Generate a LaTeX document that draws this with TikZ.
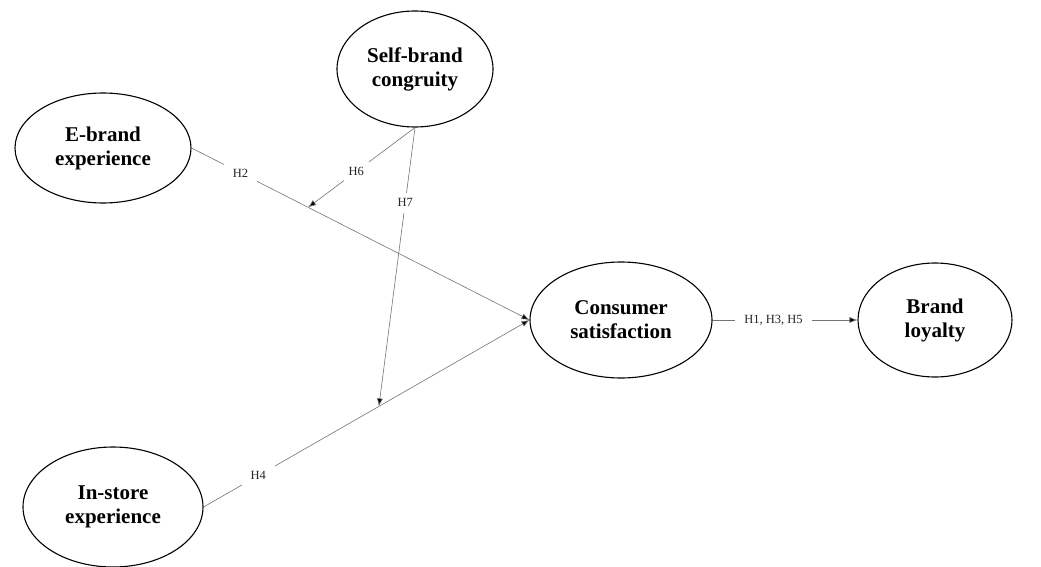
\documentclass[tikz,border=0pt]{standalone}
\usepackage{fontspec}
\setmainfont{Liberation Serif}
\usetikzlibrary{shapes.geometric,arrows.meta,calc}
\begin{document}
\begin{tikzpicture}[x=1pt,y=-1pt,
  construct/.style={ellipse,draw=black,line width=1.1pt,inner sep=0pt,align=center,
    font=\fontsize{21}{24}\selectfont\bfseries},
  path/.style={draw=black!55,line width=0.6pt},
  arr/.style={path,-{Latex[length=8pt,width=6pt,fill=black]}},
  hlab/.style={fill=white,inner xsep=9pt,inner ysep=6pt,font=\fontsize{12.5}{14}\selectfont,text=black!85}]
\useasboundingbox (0,0) rectangle (1041,567);
\node[construct,minimum width=176pt,minimum height=110pt] (E) at (103,148) {E-brand\\experience};
\node[construct,minimum width=156pt,minimum height=116pt] (SB) at (415,69) {Self-brand\\congruity};
\node[construct,minimum width=182pt,minimum height=116pt] (CS) at (621,320) {Consumer\\satisfaction};
\node[construct,minimum width=154pt,minimum height=114pt] (BL) at (935,320) {Brand\\loyalty};
\node[construct,minimum width=180pt,minimum height=120pt] (IS) at (113,507) {In-store\\experience};
\coordinate (m1) at ($(E.east)!0.345!(CS.west)$);
\coordinate (m2) at ($(IS.east)!0.538!(CS.west)$);
\draw[arr] (E.east) -- node[hlab,pos=0.145] (h2) {H2} (CS.west);
\draw[arr] (IS.east) -- node[hlab,pos=0.168] (h4) {H4} (CS.west);
\draw[arr] (SB.south) -- node[hlab,pos=0.55,inner xsep=5pt] (h6) {H6} (m1);
\draw[arr] (SB.south) -- node[hlab,pos=0.27,inner xsep=2pt] (h7) {H7} (m2);
\draw[arr] (CS.east) -- node[hlab,pos=0.42] (h135) {H1, H3, H5} (BL.west);
\end{tikzpicture}
\end{document}
